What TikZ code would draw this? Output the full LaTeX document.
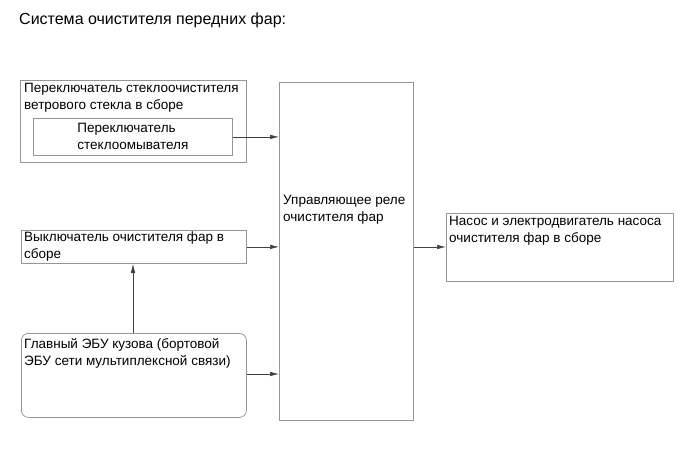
\documentclass[tikz,border=0pt]{standalone}
\usepackage{fontspec}
\setmainfont{Liberation Sans}
\usetikzlibrary{arrows.meta}
\begin{document}
\begin{tikzpicture}[x=1pt,y=-1pt,
  box/.style={draw=boxgray,line width=0.8pt,inner sep=0pt,anchor=north west},
  txt/.style={inner sep=0pt,anchor=north west,align=left,font=\fontsize{13.5}{17}\selectfont},
  conn/.style={draw=black!75,line width=0.6pt,-{Latex[length=9pt,width=4.5pt]}}]
\definecolor{boxgray}{RGB}{150,150,150}
\useasboundingbox (0,0) rectangle (690,465);
\node[txt,font=\fontsize{16}{19}\selectfont] (title) at (19,13) {Система очистителя передних фар:};
% outer switch box
\node[box,minimum width=226pt,minimum height=82pt] (outer) at (20,80) {};
\node[txt] (outert) at (24,83) {Переключатель стеклоочистителя\\ветрового стекла в сборе};
\node[box,minimum width=199pt,minimum height=37pt] (inner) at (33,118) {};
\node[txt,anchor=center] (innert) at (inner.center) {Переключатель\\стеклоомывателя};
% headlamp cleaner switch
\node[box,minimum width=225pt,minimum height=33pt] (sw) at (21,230) {};
\node[txt] (swt) at (24,232) {Выключатель очистителя фар в\\сборе};
% ECU
\node[box,rounded corners=7pt,minimum width=225pt,minimum height=84pt] (ecu) at (21,333) {};
\node[txt] (ecut) at (24,338) {Главный ЭБУ кузова (бортовой\\ЭБУ сети мультиплексной связи)};
% relay
\node[box,minimum width=134pt,minimum height=338pt] (relay) at (279,82) {};
\node[txt] (relayt) at (283,195) {Управляющее реле\\очистителя фар};
% pump
\node[box,minimum width=227pt,minimum height=68pt] (pump) at (446,213) {};
\node[txt] (pumpt) at (449,216) {Насос и электродвигатель насоса\\очистителя фар в сборе};
% connectors
\draw[conn] (inner.east) -- (inner.east -| relay.west);
\draw[conn] (sw.east) -- (sw.east -| relay.west);
\draw[conn] (ecu.east |- 0,374) -- (relay.west |- 0,374);
\draw[conn] (relay.east |- 0,247) -- (pump.west |- 0,247);
\draw[conn] (ecu.north -| 133,0) -- (sw.south -| 133,0);
\end{tikzpicture}
\end{document}
